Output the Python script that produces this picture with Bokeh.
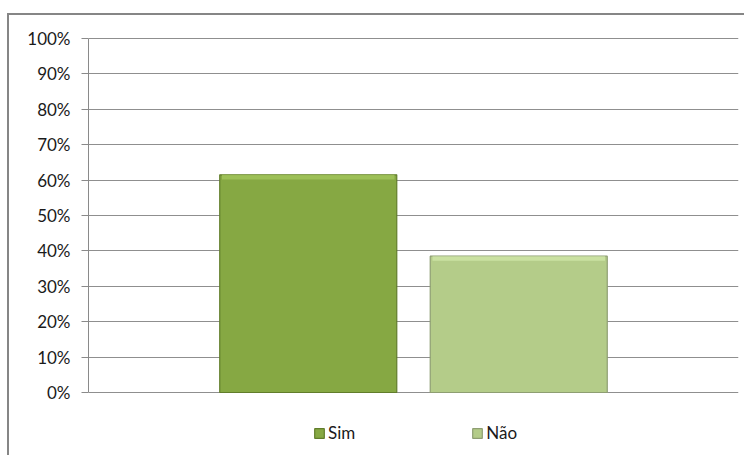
from bokeh.plotting import figure
from bokeh.models import (ColumnDataSource, Range1d, NumeralTickFormatter, FixedTicker,
                          Legend, LegendItem)
from bokeh.embed import file_html
from bokeh.resources import INLINE

# ---- data ----
categories = ["Sim", "Não"]
values = [0.615, 0.385]
positions = [0, 1]
y_ticks = [0.0, 0.1, 0.2, 0.3, 0.4, 0.5, 0.6, 0.7, 0.8, 0.9, 1.0]

fill_colors = ["#86a843", "#b4cc89"]
edge_colors = ["#617d2b", "#8e9e72"]
bevel_colors = ["#a3c65c", "#d0e6a8"]

FONT = "Lato"
PX = 1 / 354  # one pixel in value units

src = ColumnDataSource(dict(
    x=positions,
    cat=categories,
    top=values,
    bevel_bottom=[v - 0.013 for v in values],
    fill=fill_colors,
    edge=edge_colors,
    bevel=bevel_colors,
))

p = figure(width=737, height=442, output_backend="svg", toolbar_location=None,
           x_range=Range1d(-1.044, 2.044), y_range=Range1d(-65 * PX, 1 + PX),
           x_axis_location=None,
           margin=(13, 0, 0, 7),
           styles={"border-left": "2px solid #868686", "border-top": "2px solid #868686"},
           min_border_left=79, min_border_right=8, min_border_top=22, min_border_bottom=0)
p.outline_line_color = None
p.background_fill_color = "white"
p.border_fill_color = "white"

# grid
p.xgrid.grid_line_color = None
p.ygrid.grid_line_color = "#8f8f8f"
p.ygrid.grid_line_width = 1

# y axis
ax = p.yaxis[0]
ax.ticker = FixedTicker(ticks=y_ticks)
ax.bounds = (0, 1)
ax.formatter = NumeralTickFormatter(format="0%")
ax.axis_line_color = "#8a8a8a"
ax.major_tick_line_color = "#8a8a8a"
ax.major_tick_out = 7
ax.major_tick_in = 0
ax.minor_tick_line_color = None
ax.major_label_standoff = 11
ax.major_label_text_font = FONT
ax.major_label_text_font_size = "17px"
ax.major_label_text_color = "#1a1a1a"

# bars
bars = p.vbar(x="x", top="top", bottom=0, width=0.841, source=src,
              fill_color="fill", line_color="edge", line_width=1.2)
p.vbar(x="x", top="top", bottom="bevel_bottom", width=0.82, source=src,
       fill_color="bevel", line_color=None, fill_alpha=0.8)

# legend (inside the lower part of the frame, below the 0% line)
legend = Legend(items=[LegendItem(label=categories[i], renderers=[bars], index=i)
                       for i in range(len(categories))],
                orientation="horizontal", location=(225, 14),
                glyph_width=12, glyph_height=12, label_height=15,
                label_standoff=3, spacing=116, padding=0, margin=0,
                border_line_color=None, background_fill_alpha=0,
                label_text_font=FONT, label_text_font_size="17px",
                label_text_color="#1a1a1a")
p.add_layout(legend, "center")

open("out.html", "w").write(file_html(p, INLINE))
